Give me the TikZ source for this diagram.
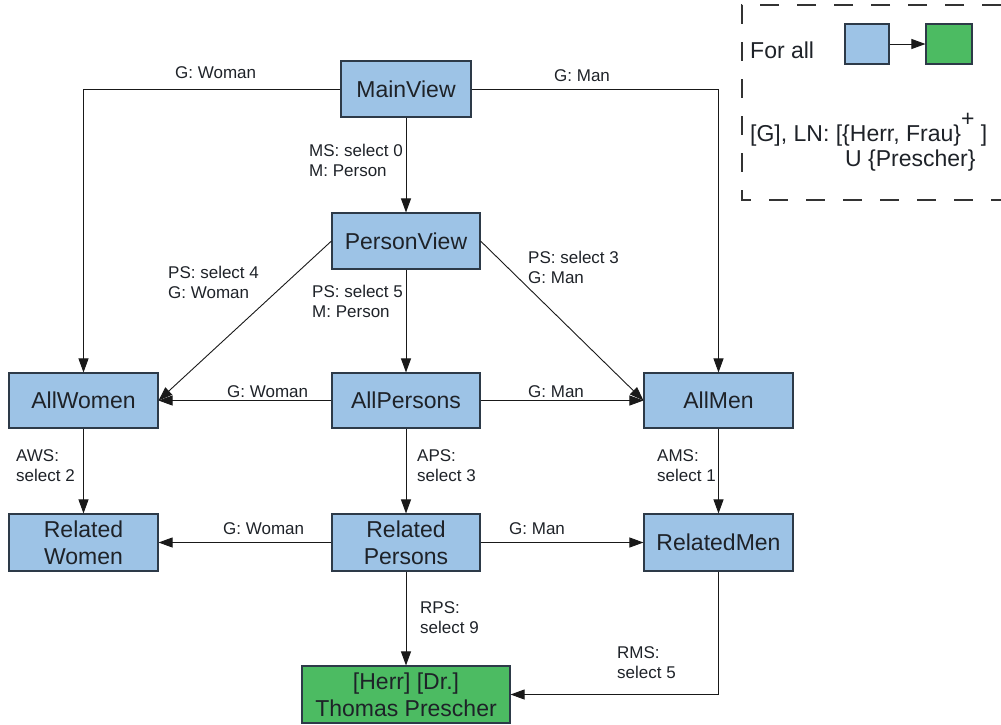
\documentclass[tikz,border=0pt]{standalone}
\usepackage{fontspec}
\setmainfont{Liberation Sans}
\usetikzlibrary{arrows.meta}
\definecolor{boxblue}{RGB}{157,195,230}
\definecolor{boxgreen}{RGB}{76,187,98}
\definecolor{boxline}{RGB}{45,58,72}
\definecolor{inktext}{RGB}{30,34,40}

\begin{document}
\begin{tikzpicture}[x=1pt,y=-1pt,
  view/.style={draw=boxline, line width=1.1pt, fill=boxblue, align=center,
    inner sep=0pt, font=\fontsize{23}{27}\selectfont, text=inktext},
  target/.style={view, fill=boxgreen},
  edge/.style={draw=black!90, line width=0.9pt, -{Triangle[length=14pt,width=10pt]}},
  lbl/.style={anchor=west, inner sep=0pt, align=left,
    font=\fontsize{17}{20}\selectfont, text=inktext},
  legendtext/.style={anchor=base west, inner sep=0pt, font=\fontsize{23}{27}\selectfont, text=inktext},
]
\useasboundingbox (0,0) rectangle (1001,724);

% ---- view nodes
\node[view, minimum width=130pt, minimum height=56pt] (main)    at (406,89)    {MainView};
\node[view, minimum width=148pt, minimum height=56pt] (pview)   at (406,241)   {PersonView};
\node[view, minimum width=149pt, minimum height=55pt] (women)   at (83.5,400.5) {AllWomen};
\node[view, minimum width=148pt, minimum height=55pt] (persons) at (406,400.5) {AllPersons};
\node[view, minimum width=149pt, minimum height=55pt] (men)     at (718.5,400.5) {AllMen};
\node[view, minimum width=149pt, minimum height=57pt] (rwomen)  at (83.5,542.5) {Related\\Women};
\node[view, minimum width=148pt, minimum height=57pt] (rpersons) at (406,542.5) {Related\\Persons};
\node[view, minimum width=149pt, minimum height=57pt] (rmen)    at (718.5,542.5) {RelatedMen};
\node[target, minimum width=208pt, minimum height=57pt] (thomas) at (406,694.5) {[Herr] [Dr.]\\Thomas Prescher};

% ---- transitions
\draw[edge] (main.west) -| (women.north);
\draw[edge] (main.east) -| (men.north);
\draw[edge] (main.south) -- (pview.north);
\draw[edge] (pview.west) -- (women.east);
\draw[edge] (pview.south) -- (persons.north);
\draw[edge] (pview.east) -- (men.west);
\draw[edge] (persons.west) -- (women.east);
\draw[edge] (persons.east) -- (men.west);
\draw[edge] (women.south) -- (rwomen.north);
\draw[edge] (persons.south) -- (rpersons.north);
\draw[edge] (men.south) -- (rmen.north);
\draw[edge] (rpersons.west) -- (rwomen.east);
\draw[edge] (rpersons.east) -- (rmen.west);
\draw[edge] (rpersons.south) -- (thomas.north);
\draw[edge] (rmen.south) |- (thomas.east);

% ---- transition labels
\node[lbl] (l1)  at (175,73)  {G: Woman};
\node[lbl] (l2)  at (554,76)  {G: Man};
\node[lbl] (l3)  at (309,160) {MS: select 0\\M: Person};
\node[lbl] (l4)  at (168,282) {PS: select 4\\G: Woman};
\node[lbl] (l5)  at (312,301) {PS: select 5\\M: Person};
\node[lbl] (l6)  at (528,267) {PS: select 3\\G: Man};
\node[lbl] (l7)  at (227,392) {G: Woman};
\node[lbl] (l8)  at (528,392) {G: Man};
\node[lbl] (l9)  at (16,466)  {AWS:\\select 2};
\node[lbl] (l10) at (417,466) {APS:\\select 3};
\node[lbl] (l11) at (657,466) {AMS:\\select 1};
\node[lbl] (l12) at (223,529) {G: Woman};
\node[lbl] (l13) at (509,529) {G: Man};
\node[lbl] (l14) at (420,618) {RPS:\\select 9};
\node[lbl] (l15) at (617,663) {RMS:\\select 5};

% ---- legend
\draw[draw=black!80, line width=1.1pt, dash pattern=on 19pt off 18pt]
  (1001,5) -- (742,5) -- (742,200) -- (1001,200);
\node[legendtext] (forall) at (750,58) {For all};
\node[draw=boxline, line width=1.1pt, fill=boxblue, minimum width=44pt, minimum height=40pt, inner sep=0pt] (lblue) at (867,44) {};
\node[draw=boxline, line width=1.1pt, fill=boxgreen, minimum width=46pt, minimum height=40pt, inner sep=0pt] (lgreen) at (949,44) {};
\draw[edge] (lblue.east) -- (lgreen.west);
\node[legendtext] (ln) at (750,141) {[G], LN: [\{Herr, Frau\}\smash{\raisebox{15pt}{+}} ]};
\node[legendtext] (un) at (845,166) {U \{Prescher\}};
\end{tikzpicture}
\end{document}
